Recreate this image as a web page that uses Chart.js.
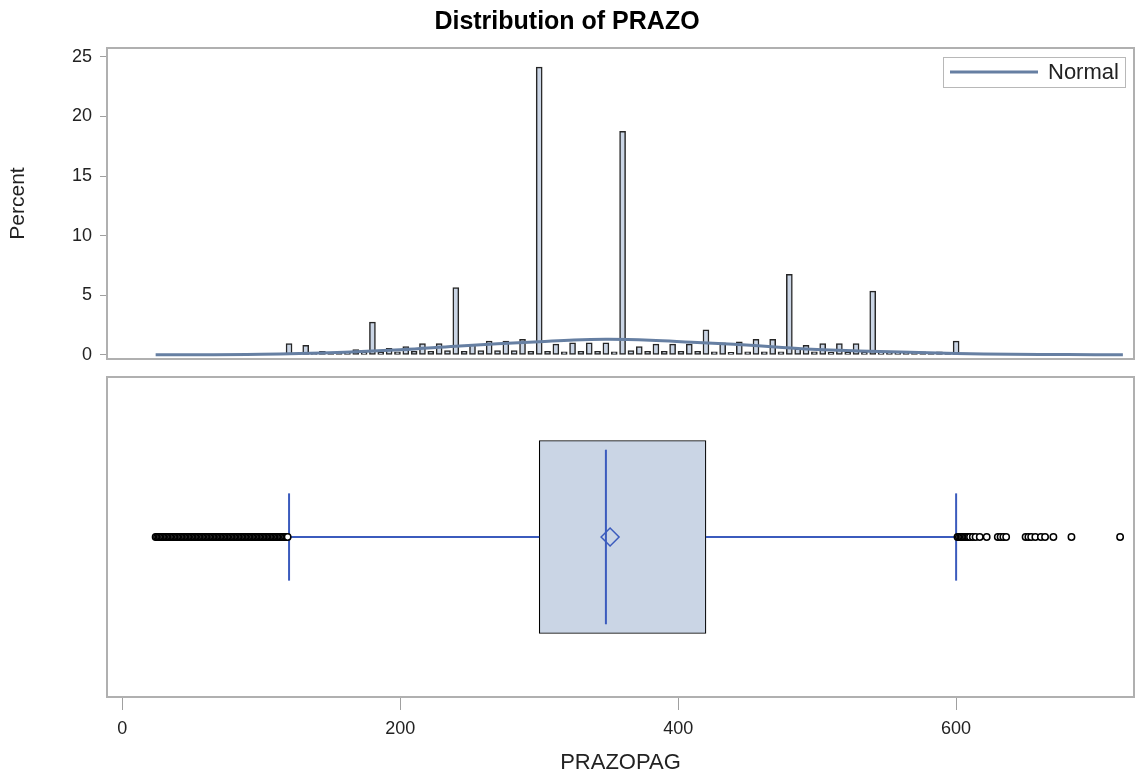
<!DOCTYPE html>
<html>
<head>
<meta charset="utf-8">
<title>Distribution of PRAZO</title>
<script src="https://cdn.jsdelivr.net/npm/chart.js@4.4.1/dist/chart.umd.min.js"></script>
<style>
  html, body { margin: 0; padding: 0; background: #fff; }
  #wrap { position: relative; width: 1136px; height: 780px; }
  canvas { position: absolute; left: 0; }
  #histChart { top: 0; }
  #boxChart { top: 368px; }
</style>
</head>
<body>
<div id="wrap">
  <canvas id="histChart" width="1136" height="368"></canvas>
  <canvas id="boxChart" width="1136" height="412"></canvas>
</div>
<script>
// --- Data ---
const binMids = [
  96, 108, 120, 126, 132, 138, 144, 150, 156, 162, 168, 174, 180, 186, 192, 198,
  204, 210, 216, 222, 228, 234, 240, 246, 252, 258, 264, 270, 276, 282, 288, 294,
  300, 306, 312, 318, 324, 330, 336, 342, 348, 354, 360, 366, 372, 378, 384, 390,
  396, 402, 408, 414, 420, 426, 432, 438, 444, 450, 456, 462, 468, 474, 480, 486,
  492, 498, 504, 510, 516, 522, 528, 534, 540, 546, 552, 558, 564, 570, 576, 582,
  588, 594, 600, 606
];
const binPercents = [
  0.1, 0.1, 0.95, 0.1, 0.8, 0.1, 0.3, 0.15, 0.25, 0.15, 0.45, 0.2, 2.75, 0.2, 0.55, 0.25,
  0.7, 0.3, 0.95, 0.3, 0.95, 0.35, 5.65, 0.3, 0.85, 0.35, 1.15, 0.35, 1.15, 0.35, 1.3, 0.3,
  24.15, 0.3, 0.9, 0.25, 1.0, 0.3, 1.0, 0.3, 1.0, 0.25, 18.75, 0.35, 0.7, 0.3, 0.9, 0.3,
  0.9, 0.3, 0.9, 0.3, 2.1, 0.25, 1.0, 0.2, 1.1, 0.25, 1.3, 0.25, 1.3, 0.25, 6.75, 0.5,
  0.8, 0.25, 0.95, 0.2, 0.95, 0.2, 0.95, 0.2, 5.35, 0.2, 0.25, 0.15, 0.25, 0.15, 0.25, 0.15,
  0.25, 0.15, 1.15, 0.15
];
const normalX = [24, 100, 160, 200, 240, 270, 300, 325, 350, 380, 410, 440, 470, 500, 530, 560, 600, 640, 680, 720];
const normalPct = [0, 0.05, 0.22, 0.42, 0.72, 0.92, 1.1, 1.25, 1.3, 1.22, 1.05, 0.88, 0.66, 0.44, 0.33, 0.24, 0.12, 0.05, 0.02, 0];
const percentTicks = [0, 5, 10, 15, 20, 25];
const prazoTicks = [0, 200, 400, 600];

// low whisker, Q1, median, Q3, high whisker
const boxStats = [120, 300, 348, 420, 600];
const meanValue = 351;
const lowOutliers = [
  24, 25, 26, 27, 28, 29, 30, 31, 32, 33, 34, 35, 36, 37, 38, 39, 40, 41, 42, 43,
  44, 45, 46, 47, 48, 49, 50, 51, 52, 53, 54, 55, 56, 57, 58, 59, 60, 61, 62, 63,
  64, 65, 66, 67, 68, 69, 70, 71, 72, 73, 74, 75, 76, 77, 78, 79, 80, 81, 82, 83,
  84, 85, 86, 87, 88, 89, 90, 91, 92, 93, 94, 95, 96, 97, 98, 99, 100, 101, 102, 103,
  104, 105, 106, 107, 108, 109, 110, 111, 112, 113, 114, 115, 116, 117, 118, 119
];
const highOutliers = [
  601, 602, 603, 604, 605, 606, 607, 608, 609, 610, 612, 614, 617, 622, 630, 632, 634, 636,
  650, 652, 654, 657, 661, 664, 670, 683, 718
];

// --- Shared settings ---
const X_MIN = -11;
const X_MAX = 728;
const FONT = "'Liberation Sans', Arial, sans-serif";
const boxBlue = "#3b5bbd";
Chart.defaults.font.family = FONT;
Chart.defaults.color = "#222";

// grey frame round each panel
const framePlugin = {
  id: "frame",
  beforeDatasetsDraw(chart) {
    const { ctx, chartArea: a } = chart;
    ctx.save();
    ctx.strokeStyle = "#b0b0b0";
    ctx.lineWidth = 2;
    ctx.strokeRect(a.left, a.top, a.right - a.left, a.bottom - a.top);
    ctx.restore();
  }
};

// boxed legend inside the top right corner
const insideLegend = {
  id: "insideLegend",
  afterDatasetsDraw(chart) {
    const { ctx, chartArea: a } = chart;
    const ds = chart.data.datasets[0];
    const w = 182, h = 30;
    const x = a.right - 9 - w, y = a.top + 9;
    ctx.save();
    ctx.fillStyle = "#fff";
    ctx.fillRect(x, y, w, h);
    ctx.strokeStyle = "#b8b8b8";
    ctx.lineWidth = 1;
    ctx.strokeRect(x + 0.5, y + 0.5, w, h);
    ctx.strokeStyle = ds.borderColor;
    ctx.lineWidth = 3;
    ctx.beginPath();
    ctx.moveTo(x + 7, y + h / 2);
    ctx.lineTo(x + 95, y + h / 2);
    ctx.stroke();
    ctx.fillStyle = "#222";
    ctx.font = "22px " + FONT;
    ctx.textBaseline = "middle";
    ctx.fillText(ds.label, x + 105, y + h / 2 + 1);
    ctx.restore();
  }
};

// --- Histogram ---
new Chart(document.getElementById("histChart"), {
  type: "bar",
  data: {
    datasets: [
      {
        type: "line",
        label: "Normal",
        data: normalX.map((x, i) => ({ x, y: normalPct[i] })),
        borderColor: "#667fa2",
        borderWidth: 3,
        pointRadius: 0,
        tension: 0.4,
        order: 0
      },
      {
        type: "bar",
        label: "Percent",
        data: binMids.map((x, i) => ({ x, y: binPercents[i] })),
        backgroundColor: "#cad5e5",
        borderColor: "#262626",
        borderWidth: 1.5,
        borderSkipped: false,
        barThickness: 6,
        order: 1
      }
    ]
  },
  options: {
    responsive: false,
    animation: false,
    layout: { autoPadding: false, padding: { left: 0, right: 2, top: 0, bottom: 9 } },
    plugins: {
      legend: { display: false },
      tooltip: { enabled: false },
      title: {
        display: true,
        text: "Distribution of PRAZO",
        color: "#000",
        font: { size: 25, weight: "bold" },
        padding: { top: 7, bottom: 11 }
      }
    },
    scales: {
      x: { type: "linear", min: X_MIN, max: X_MAX, offset: false, grid: { offset: false }, display: false },
      y: {
        type: "linear",
        min: -0.35,
        max: 25.75,
        afterBuildTicks: s => { s.ticks = percentTicks.map(v => ({ value: v })); },
        afterFit: s => { s.width = 107; s.paddingTop = 0; s.paddingBottom = 0; },
        border: { display: false },
        grid: { drawOnChartArea: false, tickLength: 7, tickColor: "#a0a0a0" },
        ticks: { font: { size: 18, lineHeight: 1 }, padding: 8 },
        title: { display: true, text: "Percent", font: { size: 21 }, padding: { top: 6, bottom: 0 } }
      }
    }
  },
  plugins: [framePlugin, insideLegend]
});

// --- Box plot ---
const [whiskLo, q1, median, q3, whiskHi] = boxStats;
const segment = (x1, y1, x2, y2, width) => ({
  data: [{ x: x1, y: y1 }, { x: x2, y: y2 }],
  borderColor: boxBlue,
  borderWidth: width,
  pointRadius: 0,
  order: 2
});

new Chart(document.getElementById("boxChart"), {
  type: "line",
  data: {
    datasets: [
      {
        label: "Mean",
        data: [{ x: meanValue, y: 0 }],
        showLine: false,
        pointStyle: "rectRot",
        pointRadius: 9,
        pointBorderColor: boxBlue,
        pointBackgroundColor: "rgba(0,0,0,0)",
        pointBorderWidth: 1.5,
        order: 0
      },
      {
        label: "Outliers",
        data: lowOutliers.concat(highOutliers).map(v => ({ x: v, y: 0 })),
        showLine: false,
        pointStyle: "circle",
        pointRadius: 3.2,
        pointBorderColor: "#000",
        pointBackgroundColor: "#fff",
        pointBorderWidth: 1.5,
        order: 1
      },
      segment(median, -0.6, median, 0.6, 2),
      segment(whiskLo, 0, q1, 0, 2),
      segment(q3, 0, whiskHi, 0, 2),
      segment(whiskLo, -0.3, whiskLo, 0.3, 2),
      segment(whiskHi, -0.3, whiskHi, 0.3, 2),
      {
        type: "bar",
        label: "Box",
        indexAxis: "y",
        data: [{ y: 0, x: [q1, q3] }],
        backgroundColor: "#cad5e5",
        borderColor: "#000",
        borderWidth: 1.2,
        borderSkipped: false,
        barThickness: 193,
        order: 9
      }
    ]
  },
  options: {
    responsive: false,
    animation: false,
    layout: { autoPadding: false, padding: { left: 107, right: 2, top: 9, bottom: 0 } },
    plugins: { legend: { display: false }, tooltip: { enabled: false } },
    scales: {
      x: {
        type: "linear",
        min: X_MIN,
        max: X_MAX,
        afterBuildTicks: s => { s.ticks = prazoTicks.map(v => ({ value: v })); },
        afterFit: s => { s.height = 83; s.paddingLeft = 0; s.paddingRight = 0; },
        border: { display: false },
        grid: { drawOnChartArea: false, tickLength: 13, tickColor: "#a0a0a0" },
        ticks: { font: { size: 18 }, padding: 8 },
        title: { display: true, text: "PRAZOPAG", font: { size: 22 }, padding: { top: 0, bottom: 4 } }
      },
      y: { type: "linear", min: -1, max: 1, display: false }
    }
  },
  plugins: [framePlugin]
});
</script>
</body>
</html>
